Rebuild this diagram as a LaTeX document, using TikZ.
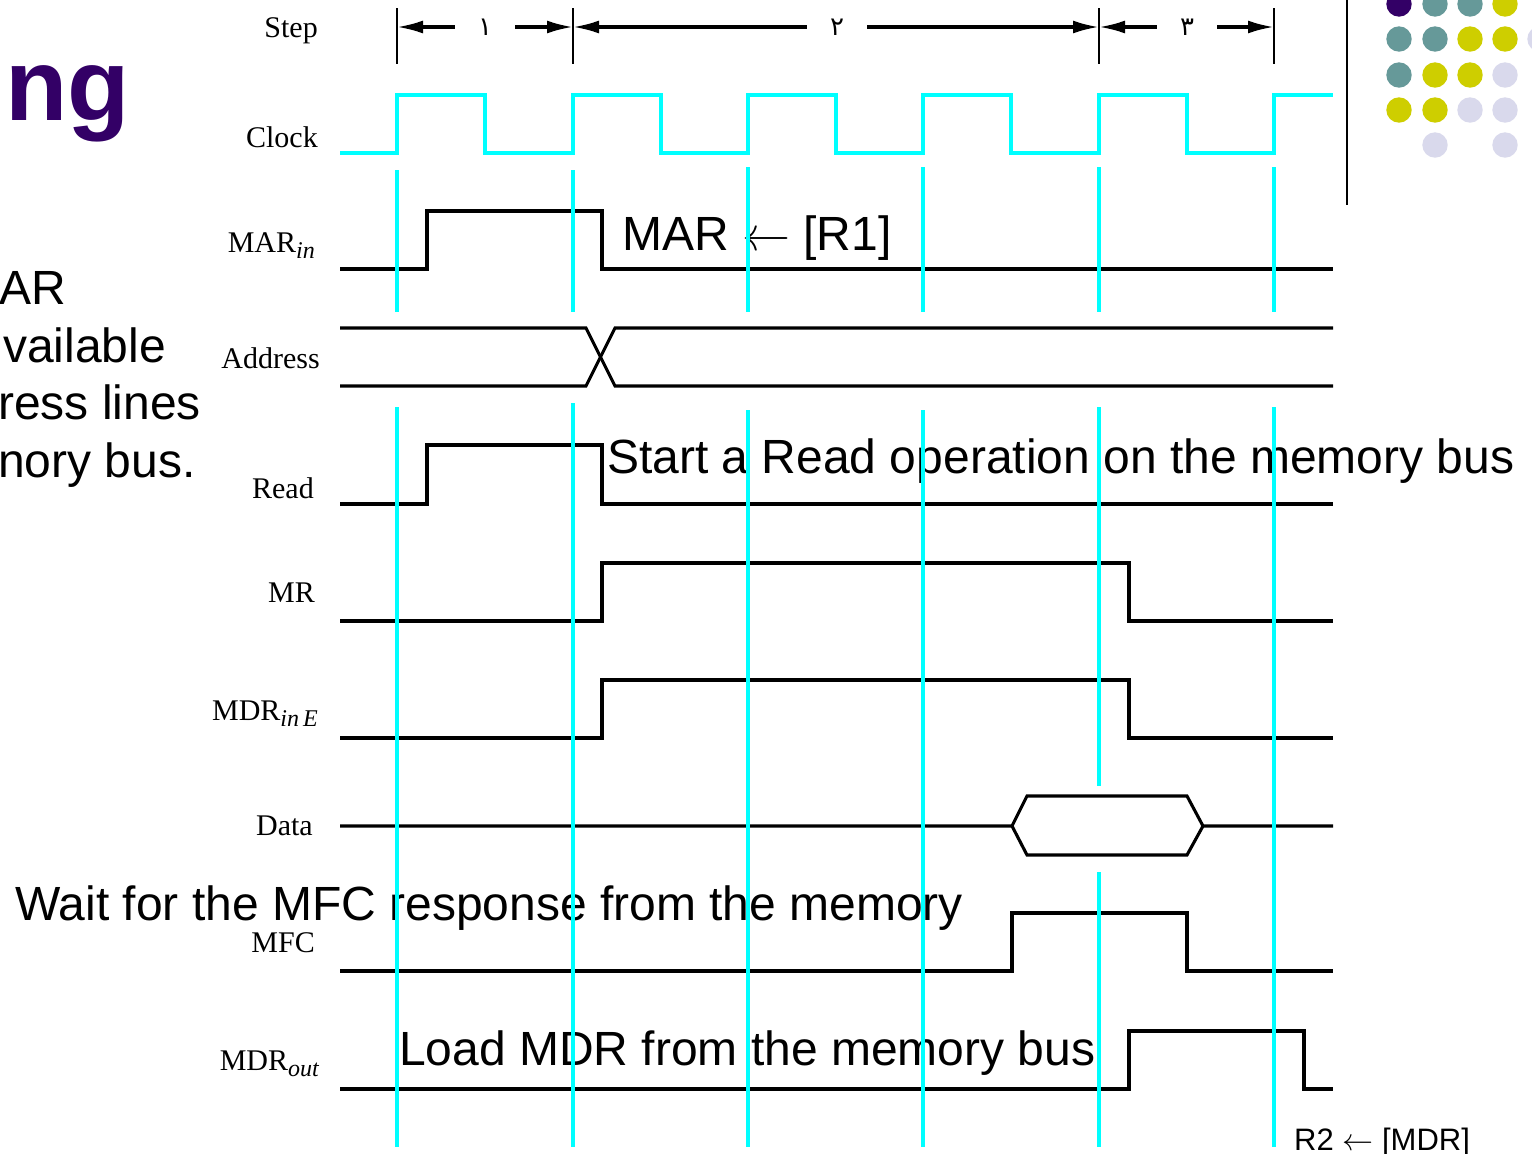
\RequirePackage{fix-cm}
\documentclass[tikz,border=0pt]{standalone}
\usepackage{fontspec}
\setmainfont{Liberation Serif}
\newfontfamily\arial{Liberation Sans}
\newfontfamily\arabicfont[Script=Arabic]{DejaVu Sans}
\usetikzlibrary{arrows.meta}

\definecolor{titlepurple}{RGB}{51,0,102}
\definecolor{clockcyan}{RGB}{0,255,255}
\definecolor{dotteal}{RGB}{102,153,153}
\definecolor{dotyellow}{RGB}{206,206,0}
\definecolor{dotlilac}{RGB}{217,217,236}
\newcommand{\sigsub}[1]{\raisebox{-6pt}{\fontsize{24}{24}\selectfont\itshape #1}}

\begin{document}
\begin{tikzpicture}[
    x=1pt, y=-1pt,
    sig/.style={line width=3.1pt, line join=miter},
    clk/.style={draw=clockcyan, line width=3.1pt},
    edgeline/.style={draw=clockcyan, line width=3.1pt},
    bar/.style={line width=2.8pt},
    steparrow/.style={-{Latex[length=26pt,width=13pt]}, line width=3.1pt},
    stepnum/.style={minimum width=60pt, inner sep=0pt, font=\arabicfont\fontsize{26}{26}\selectfont},
    lbl/.style={anchor=base east, inner sep=0pt, font=\fontsize{30}{30}\selectfont},
    note/.style={anchor=base west, inner sep=0pt, font=\arial\fontsize{48}{48}\selectfont},
    dot/.style={radius=12.7pt}
]
\useasboundingbox (0,0) rectangle (1532,1154);
\fill[white] (0,0) rectangle (1532,1154);

% Slide remains on the left and the top right
\node[anchor=base west, inner sep=0pt, text=titlepurple, font=\arial\bfseries\fontsize{102}{102}\selectfont] (title) at (5,120) {ng};
\node[note] (left1) at (-1,304) {AR};
\node[note] (left2) at (3,362) {vailable};
\node[note] (left3) at (-2,419) {ress lines};
\node[note] (left4) at (-2,477) {nory bus.};
\draw[line width=2.6pt] (1347,0) -- (1347,205);
\fill[titlepurple, dot] (1399,4) circle;
\fill[dotteal, dot] (1435,4) circle;
\fill[dotteal, dot] (1470,4) circle;
\fill[dotyellow, dot] (1505,4) circle;
\fill[dotteal, dot] (1399,39) circle;
\fill[dotteal, dot] (1435,39) circle;
\fill[dotyellow, dot] (1470,39) circle;
\fill[dotyellow, dot] (1505,39) circle;
\fill[dotlilac, dot] (1540,39) circle;
\fill[dotteal, dot] (1399,75) circle;
\fill[dotyellow, dot] (1435,75) circle;
\fill[dotyellow, dot] (1470,75) circle;
\fill[dotlilac, dot] (1505,75) circle;
\fill[dotyellow, dot] (1399,110) circle;
\fill[dotyellow, dot] (1435,110) circle;
\fill[dotlilac, dot] (1470,110) circle;
\fill[dotlilac, dot] (1505,110) circle;
\fill[dotlilac, dot] (1435,145) circle;
\fill[dotlilac, dot] (1505,145) circle;

% Signal names
\node[lbl] (lstep) at (318,37) {Step};
\node[lbl] (lclock) at (318,147) {Clock};
\node[lbl] (lmarin) at (315,252) {MAR\sigsub{in}};
\node[lbl] (laddr) at (320,368) {Address};
\node[lbl] (lread) at (314,498) {Read};
\node[lbl] (lmr) at (315,602) {MR};
\node[lbl] (lmdrin) at (318,720) {MDR\sigsub{in\,E}};
\node[lbl] (ldata) at (313,835) {Data};
\node[lbl] (lmfc) at (315,952) {MFC};
\node[lbl] (lmdrout) at (319,1070) {MDR\sigsub{out}};

% Step marks
\coordinate (t0) at (397,27);
\coordinate (t1) at (573,27);
\coordinate (t2) at (1099,27);
\coordinate (t3) at (1274,27);
\draw[bar] (397,8) -- (397,64);
\draw[bar] (573,8) -- (573,64);
\draw[bar] (1099,8) -- (1099,64);
\draw[bar] (1274,8) -- (1274,64);
\node[stepnum] (s1) at (485,27) {١};
\node[stepnum] (s2) at (837,27) {٢};
\node[stepnum] (s3) at (1187,27) {٣};
\draw[steparrow] (s1.west) -- (t0);
\draw[steparrow] (s1.east) -- (t1);
\draw[steparrow] (s2.west) -- (t1);
\draw[steparrow] (s2.east) -- (t2);
\draw[steparrow] (s3.west) -- (t2);
\draw[steparrow] (s3.east) -- (t3);

% Clock
\draw[clk] (340,153) -- (397,153) -- (397,95) -- (485,95) -- (485,153) -- (573,153) -- (573,95)
    -- (661,95) -- (661,153) -- (748,153) -- (748,95) -- (836,95) -- (836,153) -- (923,153)
    -- (923,95) -- (1011,95) -- (1011,153) -- (1099,153) -- (1099,95) -- (1187,95) -- (1187,153)
    -- (1274,153) -- (1274,95) -- (1333,95);

% Waveforms
\draw[sig] (340,269) -- (427,269) -- (427,211) -- (602,211) -- (602,269) -- (1333,269);
\draw[sig] (340,328) -- (586,328) -- (615,386) -- (1333,386);
\draw[sig] (340,386) -- (586,386) -- (615,328) -- (1333,328);
\draw[sig] (340,504) -- (427,504) -- (427,445) -- (602,445) -- (602,504) -- (1333,504);
\draw[sig] (340,621) -- (602,621) -- (602,563) -- (1129,563) -- (1129,621) -- (1333,621);
\draw[sig] (340,738) -- (602,738) -- (602,680) -- (1129,680) -- (1129,738) -- (1333,738);
\draw[sig] (340,826) -- (1012,826) -- (1027,796) -- (1187,796) -- (1203,826) -- (1333,826);
\draw[sig] (1012,826) -- (1027,855) -- (1187,855) -- (1203,826);
\draw[sig] (340,971) -- (1012,971) -- (1012,913) -- (1187,913) -- (1187,971) -- (1333,971);
\draw[sig] (340,1089) -- (1129,1089) -- (1129,1031) -- (1304,1031) -- (1304,1089) -- (1333,1089);

% Notes
\node[note] (nmar) at (622,250) {MAR $\leftarrow$ [R1]};
\node[note] (nread) at (607,473) {Start a Read operation on the memory bus};
\node[note] (nwait) at (15,920) {Wait for the MFC response from the memory};
\node[note] (nload) at (399,1065) {Load MDR from the memory bus};
\node[note, font=\arial\fontsize{31}{31}\selectfont] (nr2) at (1294,1150) {R2 $\leftarrow$ [MDR]};

% Clock edge lines
\draw[edgeline] (397,170) -- (397,312) (397,407) -- (397,1147);
\draw[edgeline] (573,170) -- (573,312) (573,403) -- (573,1147);
\draw[edgeline] (748,167) -- (748,312) (748,410) -- (748,1147);
\draw[edgeline] (923,167) -- (923,312) (923,410) -- (923,1147);
\draw[edgeline] (1099,167) -- (1099,312) (1099,407) -- (1099,786) (1099,872) -- (1099,1147);
\draw[edgeline] (1274,167) -- (1274,312) (1274,407) -- (1274,1147);
\end{tikzpicture}
\end{document}
